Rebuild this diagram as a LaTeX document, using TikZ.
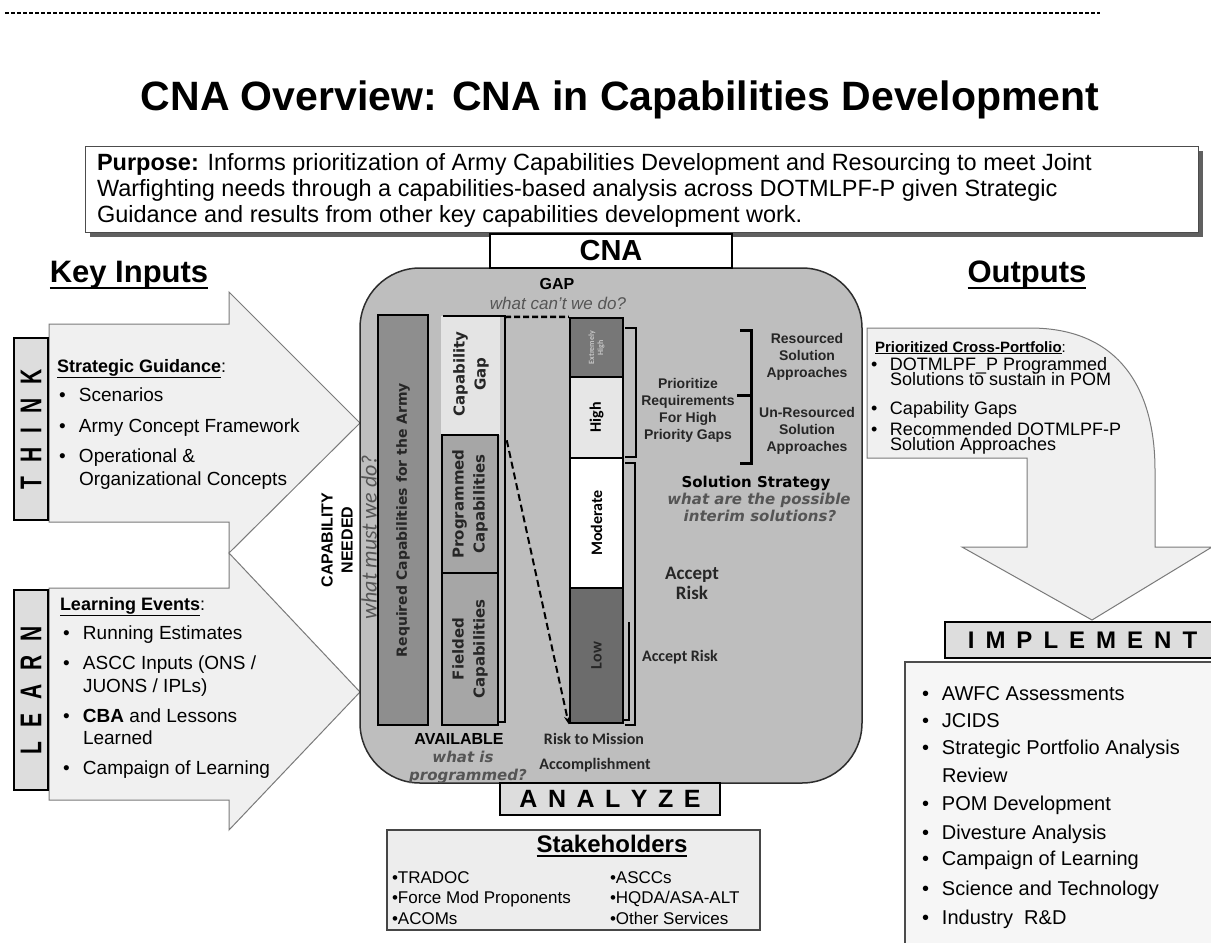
\documentclass[tikz,border=0pt]{standalone}
\usepackage{fontspec}
\usepackage{graphicx}
\setmainfont{Liberation Sans}
\newfontfamily\carl{Carlito}
\newfontfamily\dvs{DejaVu Sans}
\usetikzlibrary{arrows.meta}
\newcommand\fsz[2]{\fontsize{#1pt}{#2pt}\selectfont}
\definecolor{cgray}{HTML}{BEBEBE}
\definecolor{arrowfill}{HTML}{F0F0F0}
\definecolor{arrowline}{HTML}{7A7A7A}
\definecolor{reqgray}{HTML}{8E8E8E}
\definecolor{progray}{HTML}{A6A6A6}
\definecolor{gapfill}{HTML}{E4E4E4}
\definecolor{exhgray}{HTML}{777777}
\definecolor{highgray}{HTML}{E6E6E6}
\definecolor{lowgray}{HTML}{6C6C6C}
\definecolor{lblgray}{HTML}{DDDDDD}
\definecolor{qgray}{HTML}{555555}
\definecolor{txtdark}{HTML}{262626}
\begin{document}
\begin{tikzpicture}[x=1pt,y=-1pt,
  t/.style={inner sep=0pt,outer sep=0pt},
  bw/.style={t,anchor=base west},
  bc/.style={t,anchor=base},
  cc/.style={t,anchor=center,align=center},
  lbox/.style={draw=black,line width=2.5pt,fill=lblgray,inner sep=0pt},
  afill/.style={draw=arrowline,line width=1pt,fill=arrowfill},
  bar/.style={draw=black,line width=1.8pt,inner sep=0pt},
  brk/.style={draw=black,line width=2.5pt},
]
\useasboundingbox (0,0) rectangle (1211,943);
\fill[white] (0,0) rectangle (1211,943);

% top dashed rule
\draw[line width=2pt, dash pattern=on 4pt off 2pt] (5,13) -- (1100,13);

% title
\node[bc] (title) at (620,110) {\fsz{41}{45}\bfseries CNA Overview: CNA in Capabilities Development};

% purpose box
\fill[gray!75!black] (90,151) rectangle (1203,237);
\draw[fill=white, draw=gray!60!black, line width=1pt] (85,146) rectangle (1198,232);
\node[bw, font={\fsz{23.5}{27}}] (purp1) at (97,170) {\textbf{Purpose:} Informs prioritization of Army Capabilities Development and Resourcing to meet Joint};
\node[bw, font={\fsz{23.5}{27}}] (purp2) at (97,196) {Warfighting needs through a capabilities-based analysis across DOTMLPF-P given Strategic};
\node[bw, font={\fsz{23.5}{27}}] (purp3) at (97,222) {Guidance and results from other key capabilities development work.};

% headings
\node[bc, font={\fsz{31}{31}\bfseries}] (keyin) at (129,282) {Key Inputs};
\draw[line width=2.5pt] ([yshift=-6pt]keyin.base west) -- ([yshift=-6pt]keyin.base east);
\node[bc, font={\fsz{31}{31}\bfseries}] (outp) at (1027,282) {Outputs};
\draw[line width=2.5pt] ([yshift=-6pt]outp.base west) -- ([yshift=-6pt]outp.base east);

% input arrows
\draw[afill] (49,324) -- (229,324) -- (229,292) -- (360,423) -- (229,553) -- (229,522) -- (49,522) -- cycle;
\draw[afill] (49,588) -- (229,588) -- (229,553) -- (360,692) -- (229,830) -- (229,800) -- (49,800) -- cycle;

% THINK / LEARN labels
\node[lbox, minimum width=182pt, minimum height=34pt, rotate=90] (think) at (31,429)
  {\scalebox{0.7}[1]{\fsz{30}{30}\bfseries T\hspace{20pt}H\hspace{20pt}I\hspace{20pt}N\hspace{20pt}K}};
\node[lbox, minimum width=200pt, minimum height=34pt, rotate=90] (learn) at (31,690)
  {\scalebox{0.7}[1]{\fsz{30}{30}\bfseries L\hspace{20pt}E\hspace{20pt}A\hspace{20pt}R\hspace{20pt}N}};

% think text
\node[bw] (sg) at (57,372) {\fsz{18}{20}\bfseries\underline{Strategic Guidance}\mdseries:};
\node[bw, font={\fsz{19}{22}}] (th1) at (59,401) {\makebox[20pt][l]{•}Scenarios};
\node[bw, font={\fsz{19}{22}}] (th2) at (59,432) {\makebox[20pt][l]{•}Army Concept Framework};
\node[bw, font={\fsz{19}{22}}] (th3) at (59,462) {\makebox[20pt][l]{•}Operational \&};
\node[bw, font={\fsz{19}{22}}] (th4) at (79,485) {Organizational Concepts};

% learn text
\node[bw] (le) at (60,610) {\fsz{18}{20}\bfseries\underline{Learning Events}\mdseries:};
\node[bw, font={\fsz{19}{22}}] (le1) at (63,639) {\makebox[20pt][l]{•}Running Estimates};
\node[bw, font={\fsz{19}{22}}] (le2) at (63,669) {\makebox[20pt][l]{•}ASCC Inputs (ONS /};
\node[bw, font={\fsz{19}{22}}] (le3) at (83,692) {JUONS / IPLs)};
\node[bw, font={\fsz{19}{22}}] (le4) at (63,722) {\makebox[20pt][l]{•}\textbf{CBA} and Lessons};
\node[bw, font={\fsz{19}{22}}] (le5) at (83,744) {Learned};
\node[bw, font={\fsz{19}{22}}] (le6) at (63,774) {\makebox[20pt][l]{•}Campaign of Learning};

% central panel
\draw[fill=cgray, draw=gray!35!black, line width=1.5pt, rounded corners=60pt] (360,268) rectangle (862,783);
\node[draw=black, line width=2.5pt, fill=white, minimum width=242pt, minimum height=34pt, inner sep=0pt, font={\fsz{29}{29}\bfseries}] (cna) at (611,251) {CNA};

% capability needed
\node[cc, rotate=90, font={\fsz{16}{20}\bfseries}] (capneed) at (337,540) {CAPABILITY\\NEEDED};
\node[cc, rotate=90, text=qgray, font={\carl\itshape\fsz{22}{22}}] (wmust) at (369,537) {what must we do?};

% required bar
\node[bar, fill=reqgray, minimum width=50pt, minimum height=410pt] (req) at (403,520) {};
\node[cc, rotate=90, text=txtdark, font={\dvs\bfseries\fsz{14}{16}}] (reqt) at (req.center) {Required Capabilities for the Army};

% capability gap column
\fill[gapfill] (441,316) rectangle (500,435);
\node[cc, rotate=90, text=txtdark, font={\dvs\bfseries\fsz{15}{21}}] (capgap) at (471,374) {Capability\\Gap};
\node[bar, line width=1.5pt, fill=progray, minimum width=56pt, minimum height=138pt] (prog) at (470,504) {};
\node[cc, rotate=90, text=txtdark, font={\dvs\bfseries\fsz{15}{21}}] (progt) at (prog.center) {Programmed\\Capabilities};
\node[bar, line width=1.5pt, fill=progray, minimum width=56pt, minimum height=152pt] (field) at (470,649) {};
\node[cc, rotate=90, text=txtdark, font={\dvs\bfseries\fsz{15}{21}}] (fieldt) at (field.center) {Fielded\\Capabilities};
\draw[line width=1.2pt] (443,316) -- (500,316);
\draw[line width=2.5pt] (500,316) -- (505,316) -- (505,722) -- (499,722);

% risk column
\node[bar, line width=2.5pt, fill=exhgray, minimum width=53pt, minimum height=59pt] (exh) at (596.5,347.5) {};
\node[cc, rotate=90, text=gray!45, font={\carl\bfseries\fsz{8}{9}}] (exht) at (exh.center) {Extremely\\High};
\node[bar, line width=2.5pt, fill=highgray, minimum width=53pt, minimum height=81pt] (high) at (596.5,417.5) {};
\node[cc, rotate=90, font={\carl\bfseries\fsz{16}{16}}] (hight) at (high.center) {High};
\node[bar, line width=2.5pt, fill=white, minimum width=53pt, minimum height=130pt] (mod) at (596.5,523) {};
\node[cc, rotate=90, font={\carl\bfseries\fsz{16}{16}}] (modt) at (mod.center) {Moderate};
\node[bar, line width=2.5pt, fill=lowgray, minimum width=53pt, minimum height=135pt] (low) at (596.5,655.5) {};
\node[cc, rotate=90, text=txtdark, font={\carl\bfseries\fsz{16}{16}}] (lowt) at (low.center) {Low};

% gap dashed lines
\draw[line width=2.5pt, dash pattern=on 6pt off 3pt] (505,317) -- (exh.north west);
\draw[line width=2pt, dash pattern=on 7pt off 4pt, -{Stealth[length=8pt,width=6pt]}] ([xshift=8pt,yshift=-6pt]prog.north east) -- (low.south west);

% brackets
\draw[brk] (625,328) -- (636,328) -- (636,457) -- (625,457);
\draw[brk] (625,463) -- (635,463) -- (635,725) -- (625,725);
\draw[line width=1.5pt] (629,622) -- (629,720) -- (624,720);
\draw[line width=3pt] (740,330) -- (751,330) -- (751,463) -- (740,463);
\draw[line width=3pt] (751,395) -- (737,395);

% center labels
\node[bc, font={\fsz{16}{16}\bfseries}] (gap) at (557,289) {GAP};
\node[bc, text=qgray, font={\fsz{17}{17}\itshape}] (gapq) at (558,309) {what can't we do?};
\node[cc, text=txtdark, font={\fsz{14}{17}\bfseries}] (prio) at (688,410) {Prioritize\\Requirements\\For High\\Priority Gaps};
\node[cc, text=txtdark, font={\fsz{14}{17}\bfseries}] (resrc) at (807,357) {Resourced\\Solution\\Approaches};
\node[cc, text=txtdark, font={\fsz{14}{17}\bfseries}] (unres) at (807,431) {Un-Resourced\\Solution\\Approaches};
\node[bc, font={\dvs\bfseries\fsz{15}{15}}] (solst) at (756,487) {Solution Strategy};
\node[bc, text=qgray, font={\dvs\bfseries\itshape\fsz{15}{15}}] (solq1) at (759,504) {what are the possible};
\node[bc, text=qgray, font={\dvs\bfseries\itshape\fsz{15}{15}}] (solq2) at (760,521) {interim solutions?};
\node[bc, text=txtdark, font={\carl\bfseries\fsz{19}{19}}] (acc1) at (692,579) {Accept};
\node[bc, text=txtdark, font={\carl\bfseries\fsz{19}{19}}] (acc2) at (692,599) {Risk};
\node[bc, text=txtdark, font={\carl\bfseries\fsz{16}{16}}] (acc3) at (680,661) {Accept Risk};
\node[bc, font={\fsz{16}{16}\bfseries}] (avail) at (459,744) {AVAILABLE};
\node[bc, text=qgray, font={\dvs\bfseries\itshape\fsz{15}{15}}] (wis) at (463,762) {what is};
\node[bc, text=qgray, font={\dvs\bfseries\itshape\fsz{15}{15}}] (wprog) at (468,780) {programmed?};
\node[bc, text=txtdark, font={\carl\bfseries\fsz{16}{16}}] (rtm) at (594,744) {Risk to Mission};
\node[bc, text=txtdark, font={\carl\bfseries\fsz{16}{16}}] (rtm2) at (595,769) {Accomplishment};

% analyze
\node[lbox, minimum width=220pt, minimum height=32pt, font={\fsz{25}{25}\bfseries}] (analyze) at (610,799)
  {A\hspace{0.42em}N\hspace{0.42em}A\hspace{0.42em}L\hspace{0.42em}Y\hspace{0.42em}Z\hspace{0.42em}E};

% stakeholders
\draw[fill=gray!14, draw=gray!55!black, line width=1.5pt] (387,830) rectangle (760,930);
\node[bc, font={\fsz{24}{24}\bfseries}] (stk) at (612,852) {Stakeholders};
\draw[line width=1.8pt] ([yshift=-4pt]stk.base west) -- ([yshift=-4pt]stk.base east);
\node[bw, font={\fsz{17}{19}}] (s1) at (392,883) {•TRADOC};
\node[bw, font={\fsz{17}{19}}] (s2) at (392,903) {•Force Mod Proponents};
\node[bw, font={\fsz{17}{19}}] (s3) at (392,924) {•ACOMs};
\node[bw, font={\fsz{17}{19}}] (s4) at (610,883) {•ASCCs};
\node[bw, font={\fsz{17}{19}}] (s5) at (610,903) {•HQDA/ASA-ALT};
\node[bw, font={\fsz{17}{19}}] (s6) at (610,924) {•Other Services};

% outputs arrow
\draw[afill] (867,328) -- (1030,328) .. controls (1120,328) and (1155,390) .. (1155,470) -- (1155,547) -- (1212,547) -- (1092,620) -- (962,547) -- (1027,547) -- (1027,458) -- (867,458) -- cycle;
\node[bw] (pcp) at (875,352) {\fsz{15}{15}\bfseries\underline{Prioritized Cross-Portfolio}\mdseries:};
\node[bw, font={\fsz{18}{13}}] (o1) at (871,370) {\makebox[19pt][l]{•}DOTMLPF\_P Programmed};
\node[bw, font={\fsz{18}{13}}] (o2) at (890,385) {Solutions to sustain in POM};
\node[bw, font={\fsz{18}{13}}] (o3) at (871,414) {\makebox[19pt][l]{•}Capability Gaps};
\node[bw, font={\fsz{18}{13}}] (o4) at (871,435) {\makebox[19pt][l]{•}Recommended DOTMLPF-P};
\node[bw, font={\fsz{18}{13}}] (o5) at (890,450) {Solution Approaches};

% implement
\draw[fill=gray!7, draw=gray!60!black, line width=1.2pt] (905,662) rectangle (1220,950);
\node[lbox, minimum width=275pt, minimum height=36pt, font={\fsz{24}{24}\bfseries}] (impl) at (1082.5,640)
  {I\hspace{11pt}M\hspace{11pt}P\hspace{11pt}L\hspace{11pt}E\hspace{11pt}M\hspace{11pt}E\hspace{11pt}N\hspace{11pt}T\hspace{6pt}};
\node[bw, font={\fsz{20}{24}}] (i1) at (922,700) {\makebox[20pt][l]{•}AWFC Assessments};
\node[bw, font={\fsz{20}{24}}] (i2) at (922,727) {\makebox[20pt][l]{•}JCIDS};
\node[bw, font={\fsz{20}{24}}] (i3) at (922,754) {\makebox[20pt][l]{•}Strategic Portfolio Analysis};
\node[bw, font={\fsz{20}{24}}] (i4) at (942,782) {Review};
\node[bw, font={\fsz{20}{24}}] (i5) at (922,810) {\makebox[20pt][l]{•}POM Development};
\node[bw, font={\fsz{20}{24}}] (i6) at (922,839) {\makebox[20pt][l]{•}Divesture Analysis};
\node[bw, font={\fsz{20}{24}}] (i7) at (922,865) {\makebox[20pt][l]{•}Campaign of Learning};
\node[bw, font={\fsz{20}{24}}] (i8) at (922,895) {\makebox[20pt][l]{•}Science and Technology};
\node[bw, font={\fsz{20}{24}}] (i9) at (922,924) {\makebox[20pt][l]{•}Industry~ R\&D};
\end{tikzpicture}
\end{document}
